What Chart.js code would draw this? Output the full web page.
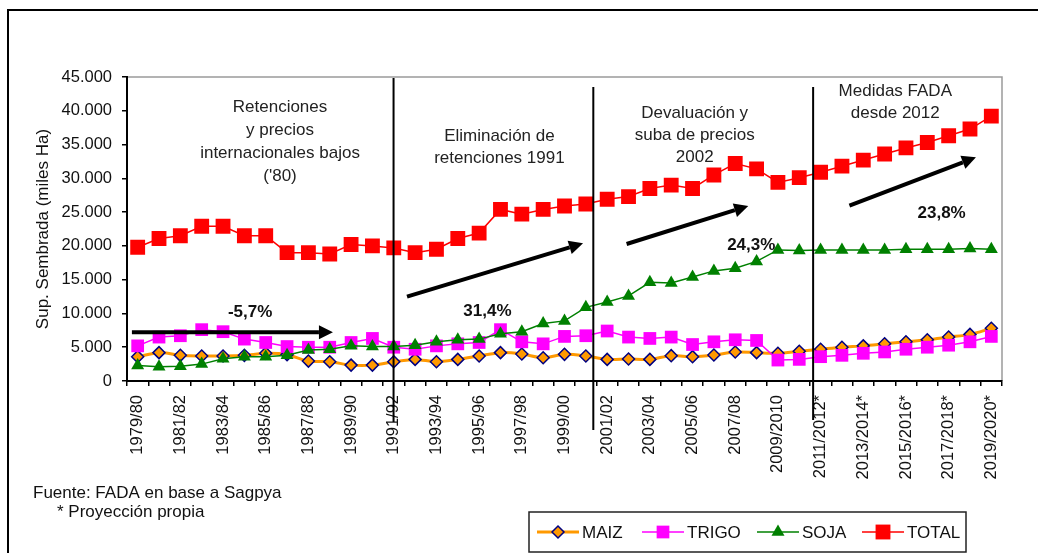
<!DOCTYPE html>
<html>
<head>
<meta charset="utf-8">
<script src="https://cdn.jsdelivr.net/npm/chart.js@4/dist/chart.umd.min.js"></script>
<style>
  html, body { margin: 0; padding: 0; background: #fff; overflow: hidden; }
  #wrap { position: relative; width: 1038px; height: 553px; }
  #frame { position: absolute; left: 7px; top: 9px; width: 1100px; height: 600px; border: 2px solid #000; }
  #chart { position: absolute; left: 0; top: 0; }
</style>
</head>
<body>
<div id="wrap">
  <div id="frame"></div>
  <canvas id="chart" width="1038" height="553"></canvas>
</div>
<script>
const campaigns = [
  "1979/80", "1980/81", "1981/82", "1982/83", "1983/84", "1984/85", "1985/86",
  "1986/87", "1987/88", "1988/89", "1989/90", "1990/91", "1991/92", "1992/93",
  "1993/94", "1994/95", "1995/96", "1996/97", "1997/98", "1998/99", "1999/00",
  "2000/01", "2001/02", "2002/03", "2003/04", "2004/05", "2005/06", "2006/07",
  "2007/08", "2008/09", "2009/2010", "2010/2011", "2011/2012*", "2012/2013*",
  "2013/2014*", "2014/2015*", "2015/2016*", "2016/2017*", "2017/2018*",
  "2018/2019*", "2019/2020*"
];

// miles de hectareas
const maiz = [
  3600, 4200, 3800, 3700, 3700, 3800, 4100, 3900, 2950, 2850, 2350, 2350, 2850,
  3200, 2850, 3200, 3700, 4200, 4000, 3450, 3950, 3700, 3200, 3250, 3200, 3750, 3600,
  3850, 4300, 4200, 4100, 4400, 4700, 5000, 5200, 5500, 5800, 6100, 6500, 6900, 7800
];
const trigo = [
  5200, 6500, 6700, 7600, 7300, 6200, 5700, 5100, 5000, 5000, 5700, 6300, 5000,
  4700, 5200, 5500, 5700, 7600, 5800, 5500, 6600, 6700, 7400, 6500, 6300, 6500, 5400,
  5800, 6100, 6000, 3100, 3200, 3600, 3800, 4100, 4300, 4700, 5000, 5300, 5800, 6600
];
const soja = [
  2300, 2100, 2200, 2500, 3300, 3600, 3600, 3800, 4600, 4700, 5200, 5100, 5100,
  5300, 5800, 6100, 6200, 7000, 7300, 8500, 8900, 10900, 11700, 12600, 14600, 14500, 15400,
  16300, 16700, 17700, 19400, 19300, 19400, 19400, 19400, 19400, 19500, 19500, 19500, 19600, 19500
];
const total = [
  19800, 21100, 21500, 22900, 22900, 21500, 21500, 19000, 19000, 18800, 20200, 20000, 19700,
  19000, 19500, 21100, 21900, 25400, 24700, 25400, 25900, 26200, 26900, 27300, 28500, 29000, 28500,
  30500, 32200, 31400, 29400, 30100, 30900, 31800, 32700, 33600, 34500, 35300, 36300, 37300, 39200
];

const yMax = 45000;
const yStep = 5000;

// annotations, in (category index, value) units
const periodLines = [[11.99, 44850, -6070], [21.35, 43520, -7250], [31.65, 43520, -5770]];
const trendArrows = [
  [-0.27, 7200, 9.15, 7200],
  [12.62, 12480, 20.87, 20380],
  [22.91, 20280, 28.61, 25900],
  [33.35, 25950, 39.28, 33110]
];
const trendLabels = [["-5,7%", 5.27, 10200], ["31,4%", 16.39, 10260], ["24,3%", 28.75, 20130], ["23,8%", 37.67, 24820]];
const periodNotes = [
  [["Retenciones", "y precios", "internacionales bajos", "('80)"], 6.67, 40560, 23],
  [["Eliminación de", "retenciones 1991"], 16.95, 36220, 21.5],
  [["Devaluación y", "suba de precios", "2002"], 26.1, 39670, 22.3],
  [["Medidas FADA", "desde 2012"], 35.5, 42900, 22]
];

const FONT = "'Liberation Sans', Arial, sans-serif";

function fmt(v) {
  return String(v).replace(/\B(?=(\d{3})+(?!\d))/g, ".");
}

const extras = {
  id: "extras",
  beforeDraw(chart) {
    const { ctx, chartArea: a } = chart;
    ctx.save();
    ctx.strokeStyle = "#9a9a9a";
    ctx.lineWidth = 1.5;
    ctx.beginPath();
    ctx.moveTo(a.left, a.top);
    ctx.lineTo(a.right, a.top);
    ctx.lineTo(a.right, a.bottom);
    ctx.stroke();
    ctx.restore();
  },
  afterDraw(chart) {
    const { ctx } = chart;
    const xs = chart.scales.x, ys = chart.scales.y;
    const px = (i) => xs.getPixelForValue(i);
    const py = (v) => ys.getPixelForValue(v);
    ctx.save();

    // period separators
    ctx.strokeStyle = "#000";
    ctx.lineWidth = 2;
    periodLines.forEach(([i, top, bottom]) => {
      ctx.beginPath();
      ctx.moveTo(px(i), py(top));
      ctx.lineTo(px(i), py(bottom));
      ctx.stroke();
    });

    // trend arrows
    trendArrows.forEach(([i0, v0, i1, v1]) => {
      const x0 = px(i0), y0 = py(v0), x1 = px(i1), y1 = py(v1);
      const ang = Math.atan2(y1 - y0, x1 - x0);
      const headLen = 14, headW = 7;
      const bx = x1 - headLen * Math.cos(ang), by = y1 - headLen * Math.sin(ang);
      ctx.strokeStyle = "#000";
      ctx.lineWidth = 4;
      ctx.beginPath();
      ctx.moveTo(x0, y0);
      ctx.lineTo(bx, by);
      ctx.stroke();
      ctx.fillStyle = "#000";
      ctx.beginPath();
      ctx.moveTo(x1, y1);
      ctx.lineTo(bx + headW * Math.sin(ang), by - headW * Math.cos(ang));
      ctx.lineTo(bx - headW * Math.sin(ang), by + headW * Math.cos(ang));
      ctx.closePath();
      ctx.fill();
    });

    ctx.textAlign = "center";
    ctx.textBaseline = "middle";
    ctx.fillStyle = "#111";
    ctx.font = "bold 17px " + FONT;
    trendLabels.forEach(([t, i, v]) => ctx.fillText(t, px(i), py(v)));

    ctx.font = "17px " + FONT;
    ctx.fillStyle = "#222";
    periodNotes.forEach(([lines, i, v, lh]) => {
      lines.forEach((t, k) => ctx.fillText(t, px(i), py(v) + k * lh));
    });

    // source notes
    ctx.textAlign = "left";
    ctx.fillStyle = "#111";
    ctx.font = "17px " + FONT;
    ctx.fillText("Fuente: FADA en base a Sagpya", 33, 493);
    ctx.fillText("* Proyección propia", 57, 512);

    // legend
    ctx.strokeStyle = "#222";
    ctx.lineWidth = 1.5;
    ctx.strokeRect(529, 512, 437, 40);
    const starts = [537, 642, 757, 862];
    chart.data.datasets.forEach((ds, k) => {
      const x0 = starts[k], y = 532;
      ctx.strokeStyle = ds.borderColor;
      ctx.lineWidth = ds.borderWidth;
      ctx.beginPath();
      ctx.moveTo(x0, y);
      ctx.lineTo(x0 + 42, y);
      ctx.stroke();
      ctx.fillStyle = ds.pointBackgroundColor;
      ctx.strokeStyle = ds.pointBorderColor;
      ctx.lineWidth = ds.pointBorderWidth;
      Chart.helpers.drawPoint(ctx, {
        pointStyle: ds.pointStyle, radius: ds.pointRadius, rotation: 0, borderWidth: ds.pointBorderWidth
      }, x0 + 21, y);
      ctx.fillStyle = "#111";
      ctx.font = "17px " + FONT;
      ctx.fillText(ds.label, x0 + 45, y + 1);
    });
    ctx.restore();
  }
};

const ctx = document.getElementById("chart").getContext("2d");
new Chart(ctx, {
  type: "line",
  data: {
    labels: campaigns,
    datasets: [
      {
        label: "MAIZ", data: maiz, order: 4,
        borderColor: "#ff9900", borderWidth: 3, tension: 0.3,
        pointStyle: "rectRot", pointRadius: 6,
        pointBackgroundColor: "#ff9900", pointBorderColor: "#000080", pointBorderWidth: 1.5
      },
      {
        label: "TRIGO", data: trigo, order: 3,
        borderColor: "#ff00ff", borderWidth: 1.5,
        pointStyle: "rect", pointRadius: 9,
        pointBackgroundColor: "#ff00ff", pointBorderColor: "#ff00ff", pointBorderWidth: 0
      },
      {
        label: "SOJA", data: soja, order: 2,
        borderColor: "#008000", borderWidth: 1.5,
        pointStyle: "triangle", pointRadius: 7.5,
        pointBackgroundColor: "#008000", pointBorderColor: "#008000", pointBorderWidth: 0
      },
      {
        label: "TOTAL", data: total, order: 1,
        borderColor: "#ff0000", borderWidth: 1.5,
        pointStyle: "rect", pointRadius: 10.5,
        pointBackgroundColor: "#ff0000", pointBorderColor: "#ff0000", pointBorderWidth: 0
      }
    ]
  },
  options: {
    responsive: false,
    animation: false,
    layout: { padding: { left: 29, top: 77, right: 36, bottom: 72 } },
    plugins: {
      legend: { display: false },
      tooltip: { enabled: false }
    },
    scales: {
      x: {
        offset: true,
        grid: { offset: true, drawOnChartArea: false, drawTicks: true, tickLength: 5, color: "#000", lineWidth: 1.5 },
        border: { color: "#000", width: 2 },
        ticks: {
          autoSkip: false, minRotation: 90, maxRotation: 90, padding: 9,
          color: "#111", font: { family: FONT, size: 16.5 },
          callback: (v, i) => (i % 2 === 0 ? campaigns[i] : "")
        },
        afterFit: (s) => { s.height = 100; }
      },
      y: {
        min: 0, max: yMax,
        grid: { drawOnChartArea: false, drawTicks: true, tickLength: 5, color: "#000", lineWidth: 1.5 },
        border: { color: "#000", width: 2 },
        ticks: {
          stepSize: yStep, padding: 10,
          color: "#111", font: { family: FONT, size: 16.5 },
          callback: (v) => fmt(v)
        },
        title: {
          display: true, text: "Sup. Sembrada (miles Ha)",
          color: "#111", font: { family: FONT, size: 17 }
        },
        afterFit: (s) => { s.width = 98; }
      }
    }
  },
  plugins: [extras]
});
</script>
</body>
</html>
